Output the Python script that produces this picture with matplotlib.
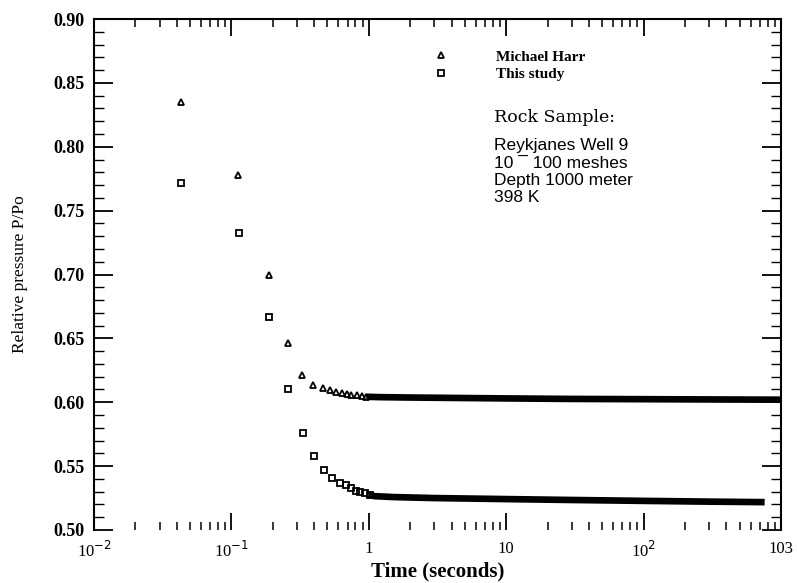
import matplotlib
matplotlib.use("Agg")
import matplotlib.pyplot as plt
from matplotlib.lines import Line2D
from matplotlib.ticker import FixedLocator, NullFormatter, LogLocator

# ---- data ----
harr_t = [0.043, 0.111, 0.187, 0.258, 0.325, 0.394, 0.461, 0.52, 0.575, 0.633, 0.689, 0.748, 0.814, 0.885, 0.962]
harr_p = [0.835, 0.778, 0.700, 0.646, 0.621, 0.6135, 0.6108, 0.6095, 0.6082, 0.6074, 0.6064, 0.6058, 0.6054, 0.6048, 0.6043]
harr_band_t = [0.96, 1.2, 2.0, 4.0, 10.0, 30.0, 100.0, 300.0, 1000.0]
harr_band_p = [0.6043, 0.6040, 0.6037, 0.6034, 0.6030, 0.6026, 0.6024, 0.6022, 0.6020]

study_t = [0.043, 0.113, 0.187, 0.258, 0.33, 0.40, 0.469, 0.544, 0.615, 0.677, 0.737, 0.804, 0.87, 0.94, 1.016]
study_p = [0.772, 0.7324, 0.6667, 0.6103, 0.5761, 0.5578, 0.5469, 0.5408, 0.5369, 0.5351, 0.5330, 0.5306, 0.5296, 0.5286, 0.5275]
study_band_t = [1.0, 1.1, 1.5, 3.0, 10.0, 30.0, 100.0, 300.0, 760.0]
study_band_p = [0.5276, 0.5265, 0.5258, 0.5250, 0.5242, 0.5235, 0.5228, 0.5222, 0.5218]

x_ticks = [0.01, 0.1, 1, 10, 100, 1000]
x_tick_labels = ["10$^{-2}$", "10$^{-1}$", "1", "10", "10$^{2}$", "103"]
y_ticks = [0.50, 0.55, 0.60, 0.65, 0.70, 0.75, 0.80, 0.85, 0.90]
y_tick_labels = ["0.50", "0.55", "0.60", "0.65", "0.70", "0.75", "0.80", "0.85", "0.90"]

info_lines = ["Reykjanes Well 9", "10 \u00af 100 meshes", "Depth 1000 meter", "398 K"]

# ---- figure ----
W, H = 797, 583
fig = plt.figure(figsize=(W / 100, H / 100), dpi=100)
ax = fig.add_axes([94 / W, 1 - 530 / H, (781 - 94) / W, (530 - 19) / H])

ax.set_xscale("log")
ax.set_xlim(0.01, 1000)
ax.set_ylim(0.50, 0.90)

mk = dict(color="black", linestyle="none", fillstyle="none")
ax.plot(harr_band_t, harr_band_p, color="black", lw=4.8, solid_capstyle="butt")
ax.plot(study_band_t, study_band_p, color="black", lw=4.8, solid_capstyle="butt")
ax.plot(harr_t, harr_p, marker="^", markersize=5, markeredgewidth=1.3, **mk)
ax.plot(study_t, study_p, marker="s", markersize=4.2, markeredgewidth=1.3, **mk)

# ticks
ax.xaxis.set_major_locator(FixedLocator(x_ticks))
ax.set_xticklabels(x_tick_labels, fontfamily="Liberation Serif", fontsize=12)
ax.xaxis.set_minor_locator(LogLocator(base=10, subs=range(2, 10)))
ax.xaxis.set_minor_formatter(NullFormatter())
ax.yaxis.set_major_locator(FixedLocator(y_ticks))
ax.set_yticklabels(y_tick_labels, fontfamily="Liberation Serif", fontsize=13, fontweight="bold")
ax.yaxis.set_minor_locator(FixedLocator([0.50 + 0.01 * i for i in range(41)]))

ax.tick_params(axis="both", which="both", direction="in", top=True, right=True, color="black")
ax.tick_params(axis="x", which="major", length=12, width=1.3, pad=8)
ax.tick_params(axis="x", which="minor", length=6, width=1.1)
ax.tick_params(axis="y", which="major", length=14, width=1.3, pad=7)
ax.tick_params(axis="y", which="minor", length=7, width=1.0)

for s in ["left", "right", "top"]:
    ax.spines[s].set_linewidth(1.5)
ax.spines["bottom"].set_visible(False)

ax.set_xlabel("Time (seconds)", fontfamily="Liberation Serif", fontsize=15, fontweight="bold", labelpad=0)
ax.set_ylabel("Relative pressure P/Po", fontfamily="Liberation Serif", fontsize=12.5, labelpad=18)

# legend
handles = [Line2D([], [], marker="^", markersize=5, markeredgewidth=1.3, **mk),
           Line2D([], [], marker="s", markersize=4.2, markeredgewidth=1.3, **mk)]
leg = ax.legend(handles, ["Michael Harr", "This study"], loc="upper left",
                bbox_to_anchor=(433 / W, 1 - 50 / H), bbox_transform=fig.transFigure,
                frameon=False, borderpad=0, borderaxespad=0, handlelength=1.0,
                handletextpad=3.1, labelspacing=0.25, numpoints=1,
                prop=dict(family="Liberation Serif", size=11, weight="bold"))

# annotation block
fig.text(494 / W, 1 - 118 / H, "Rock Sample:", fontfamily="DejaVu Serif", fontsize=12.5,
         va="center", ha="left")
for i, line in enumerate(info_lines):
    fig.text(494 / W, 1 - (146 + 17 * i) / H, line, fontfamily="Liberation Sans",
             fontsize=12.5, va="center", ha="left")

fig.savefig("out.png", dpi=100)
